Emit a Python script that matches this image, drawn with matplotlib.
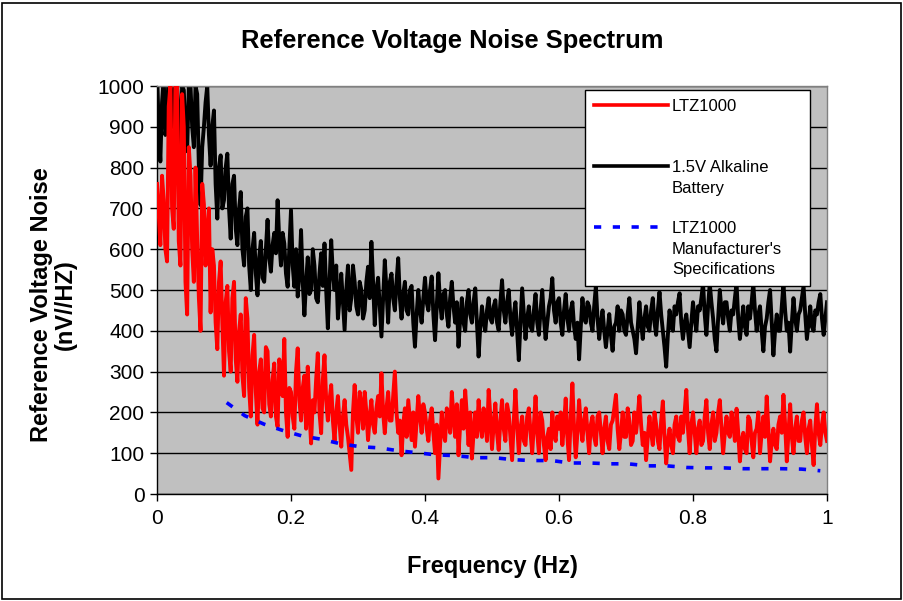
import numpy as np
import matplotlib
matplotlib.use("Agg")
import matplotlib.pyplot as plt
from matplotlib.patches import Rectangle
from matplotlib.lines import Line2D

plt.rcParams['font.family'] = ['Liberation Sans', 'DejaVu Sans']

step = 0.0025
ltz1000 = [
    760, 690, 610, 780, 720, 600, 570, 950, 1000, 700, 650, 1000, 1000, 620, 560, 980, 900, 520, 440, 850,
    780, 600, 520, 800, 620, 480, 400, 760, 710, 560, 640, 700, 445, 600, 560, 420, 355, 520, 570, 420,
    290, 470, 510, 350, 300, 480, 520, 330, 275, 400, 440, 290, 240, 480, 430, 260, 190, 340, 390, 250,
    170, 300, 330, 210, 200, 360, 350, 220, 190, 280, 320, 190, 165, 330, 300, 240, 380, 200, 140, 260,
    250, 190, 160, 300, 357, 230, 180, 260, 290, 160, 312, 200, 124, 230, 200, 280, 345, 200, 149, 280,
    340, 230, 180, 230, 267, 180, 130, 200, 240, 170, 116, 190, 230, 170, 140, 100, 59, 200, 267, 190,
    150, 250, 220, 160, 250, 200, 132, 190, 230, 170, 150, 210, 240, 190, 296, 200, 149, 210, 250, 180,
    180, 240, 300, 200, 150, 180, 95, 170, 210, 140, 230, 180, 132, 200, 116, 180, 240, 190, 150, 220,
    200, 160, 130, 180, 210, 150, 100, 170, 38, 120, 200, 150, 130, 210, 190, 150, 250, 190, 140, 220,
    95, 170, 230, 160, 254, 190, 120, 200, 87, 150, 200, 140, 230, 170, 140, 210, 180, 130, 255, 190,
    110, 170, 222, 150, 108, 180, 230, 160, 130, 220, 196, 140, 83, 180, 255, 170, 100, 160, 190, 130,
    120, 190, 210, 150, 100, 170, 239, 150, 100, 200, 180, 120, 83, 140, 160, 110, 200, 150, 130, 190,
    160, 200, 120, 170, 234, 140, 83, 190, 271, 160, 90, 150, 230, 170, 130, 180, 210, 150, 100, 170,
    190, 140, 120, 190, 200, 150, 100, 160, 190, 130, 110, 170, 180, 210, 243, 160, 110, 150, 200, 140,
    140, 210, 180, 120, 130, 200, 150, 190, 240, 170, 120, 150, 83, 140, 190, 150, 120, 200, 170, 130,
    110, 180, 227, 140, 75, 130, 160, 120, 100, 170, 190, 140, 130, 190, 150, 200, 255, 160, 100, 170,
    200, 150, 100, 160, 180, 120, 130, 190, 230, 150, 110, 170, 200, 130, 150, 200, 230, 160, 100, 150,
    190, 150, 140, 200, 170, 130, 209, 150, 80, 130, 150, 110, 100, 190, 180, 130, 90, 150, 160, 200,
    100, 150, 190, 140, 239, 160, 80, 130, 160, 120, 110, 170, 190, 150, 243, 170, 80, 150, 220, 140,
    100, 160, 190, 130, 130, 180, 200, 140, 100, 160, 180, 120, 71, 160, 220, 150, 120, 170, 200, 150, 130,
]
battery = [
    1040, 900, 815, 960, 1020, 880, 910, 1050, 1050, 900, 960, 1050, 1000, 920, 860, 1000, 990, 880, 840, 1000,
    1000, 900, 850, 1000, 980, 800, 708, 850, 900, 960, 1000, 880, 805, 900, 940, 760, 675, 800, 830, 700,
    720, 800, 834, 700, 626, 760, 780, 650, 610, 700, 740, 600, 560, 680, 700, 560, 500, 600, 640, 540,
    487, 580, 620, 530, 520, 600, 672, 580, 545, 610, 640, 590, 720, 620, 560, 640, 614, 540, 508, 600,
    696, 560, 508, 600, 484, 540, 647, 520, 438, 520, 580, 490, 500, 600, 560, 480, 470, 540, 590, 510,
    614, 500, 406, 520, 622, 540, 500, 560, 430, 480, 540, 470, 402, 500, 560, 450, 480, 560, 520, 460,
    440, 520, 500, 430, 450, 520, 557, 480, 618, 520, 414, 500, 530, 460, 386, 480, 573, 500, 420, 520,
    540, 480, 450, 520, 578, 480, 430, 490, 520, 450, 440, 500, 510, 420, 361, 440, 500, 450, 420, 480,
    530, 470, 450, 500, 533, 440, 377, 460, 541, 470, 430, 490, 500, 440, 410, 480, 520, 460, 420, 470,
    361, 430, 480, 420, 400, 470, 500, 440, 420, 470, 504, 420, 337, 410, 460, 420, 400, 450, 480, 430,
    420, 460, 475, 420, 401, 470, 524, 450, 420, 470, 500, 430, 390, 440, 470, 400, 328, 420, 504, 440,
    380, 430, 460, 410, 400, 450, 490, 420, 390, 450, 500, 430, 380, 420, 460, 480, 529, 450, 420, 470,
    480, 420, 390, 450, 490, 430, 400, 450, 470, 410, 380, 420, 330, 410, 480, 430, 420, 470, 460, 420,
    400, 460, 509, 430, 380, 420, 450, 400, 360, 400, 441, 390, 351, 410, 420, 460, 400, 450, 440, 400,
    390, 440, 480, 420, 400, 380, 345, 410, 470, 420, 380, 430, 460, 410, 400, 450, 480, 420, 390, 450,
    495, 440, 400, 360, 312, 390, 450, 410, 400, 460, 440, 470, 492, 420, 380, 420, 440, 400, 360, 420,
    470, 430, 400, 460, 450, 480, 516, 440, 390, 460, 516, 470, 430, 380, 350, 430, 500, 450, 418, 470,
    470, 430, 400, 450, 440, 480, 516, 430, 380, 420, 460, 410, 390, 460, 430, 470, 516, 450, 400, 440,
    460, 400, 350, 410, 430, 470, 500, 420, 340, 400, 440, 400, 400, 460, 516, 450, 400, 420, 349, 420,
    480, 430, 400, 440, 450, 480, 510, 440, 380, 420, 460, 410, 400, 450, 440, 470, 490, 430, 390, 430, 470,
]
spec_freq = [0.104, 0.131, 0.160, 0.189, 0.217, 0.246, 0.274, 0.303, 0.332,
             0.360, 0.389, 0.416, 0.446, 0.475, 0.503, 0.532, 0.560, 0.589,
             0.617, 0.646, 0.675, 0.703, 0.732, 0.761, 0.790, 0.818, 0.846,
             0.875, 0.903, 0.932, 0.962, 0.990]
spec_vals = [224, 192, 171, 155, 142, 134, 123, 116, 113, 106, 101, 96, 94, 89,
             89, 84, 82, 82, 76, 76, 74, 74, 69, 69, 65, 64, 64, 62, 62, 62, 61, 57]
x_ticks = [0, 0.2, 0.4, 0.6, 0.8, 1.0]
x_tick_labels = ['0', '0.2', '0.4', '0.6', '0.8', '1']

freq = np.arange(len(ltz1000)) * step

W, H = 904, 601
fig = plt.figure(figsize=(W / 100, H / 100), dpi=100)
fig.patches.append(Rectangle((2 / W, 2 / H), 1 - 5 / W, 1 - 5 / H, transform=fig.transFigure,
                             fill=False, edgecolor='black', linewidth=1.2))
ax = fig.add_axes([157 / W, 1 - 494 / H, 670 / W, 408 / H])
ax.set_facecolor('#C0C0C0')

l_red, = ax.plot(freq, ltz1000, color='#FF0000', lw=2.8, zorder=3)
l_blk, = ax.plot(freq, battery, color='black', lw=2.8, zorder=2)
l_blu, = ax.plot(spec_freq, spec_vals, color='#0000FF', lw=2.6, ls=(0, (2.0, 3.2)), zorder=4)

ax.set_xlim(0, 1)
ax.set_ylim(0, 1000)
ax.set_xticks(x_ticks)
ax.set_xticklabels(x_tick_labels)
ax.set_yticks(np.arange(0, 1001, 100))
ax.yaxis.grid(True, color='black', lw=1)
ax.set_axisbelow(True)
for s in ax.spines.values():
    s.set_color('#808080')
    s.set_linewidth(1)
ax.spines['left'].set_color('black')
ax.spines['bottom'].set_color('black')
ax.tick_params(axis='both', direction='out', length=5, width=1, labelsize=15, pad=4)
ax.tick_params(axis='x', pad=6)

fig.text(0.5, 1 - 41 / H, 'Reference Voltage Noise Spectrum', fontsize=18.4,
         fontweight='bold', ha='center', va='center')
ax.set_xlabel('Frequency (Hz)', fontsize=17, fontweight='bold')
ax.xaxis.set_label_coords(0.5, -0.15)
ax.set_ylabel('Reference Voltage Noise\n(nV//HZ)', fontsize=17, fontweight='bold',
              linespacing=1.05)
ax.yaxis.set_label_coords(-0.119, 0.463)

blank = Line2D([], [], color='none')
handles = [l_red, blank, blank, l_blk, blank, blank, l_blu, blank, blank]
labels = ['LTZ1000', ' ', ' ', '1.5V Alkaline', 'Battery', ' ',
          'LTZ1000', "Manufacturer's", 'Specifications']
leg = ax.legend(handles, labels, loc='upper left',
                bbox_to_anchor=(0.639, 0.4, 0.336, 0.59), mode='expand', fontsize=12,
                frameon=True, fancybox=False, framealpha=1, edgecolor='black',
                borderaxespad=0, handlelength=4.4, handletextpad=0.25,
                labelspacing=0.32, borderpad=0.55)
leg.get_frame().set_linewidth(1)
for h in leg.legend_handles:
    h.set_linewidth(2.6)

fig.savefig('out.png', dpi=100)
